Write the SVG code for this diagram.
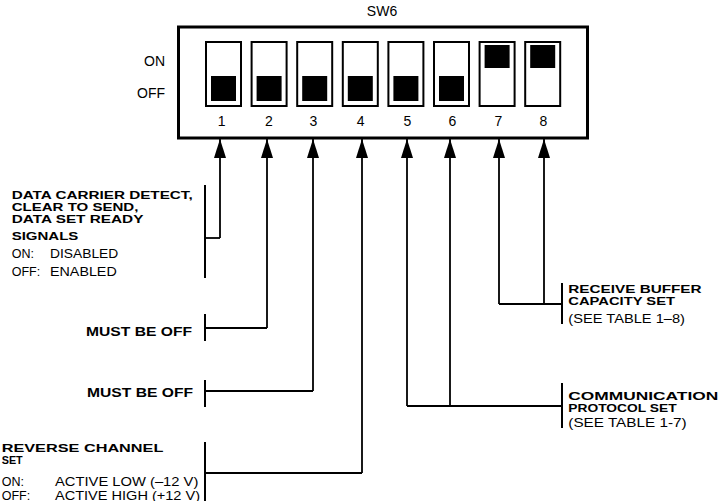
<svg xmlns="http://www.w3.org/2000/svg" width="722" height="501" viewBox="0 0 722 501">
<defs>
<style>
.b{font-family:"Liberation Sans",Arial,sans-serif;font-weight:bold;font-size:10.5px;fill:#000}
.m{font-family:"Liberation Sans",Arial,sans-serif;font-weight:bold;font-size:12px;fill:#000}
.r{font-family:"Liberation Sans",Arial,sans-serif;font-size:12.5px;fill:#000}
.n{font-family:"Liberation Sans",Arial,sans-serif;font-size:14px;fill:#000}
.sw{fill:#fff;stroke:#000;stroke-width:2}
.k{fill:#000}
.c{fill:none;stroke:#000;stroke-width:1.8}
.br{fill:none;stroke:#000;stroke-width:2}
</style>
<marker id="ah" markerWidth="19" markerHeight="12" refX="19" refY="6" orient="auto" markerUnits="userSpaceOnUse" viewBox="0 0 19 12">
<path d="M0,0 L19,6 L0,12 Z" fill="#000"/>
</marker>
</defs>
<rect width="722" height="501" fill="#fff"/>
<g id="sw6">
<text class="n" x="382" y="16" text-anchor="middle">SW6</text>
<text class="n" x="165" y="66" text-anchor="end">ON</text>
<text class="n" x="165" y="98" text-anchor="end">OFF</text>
<rect x="178.5" y="27" width="409" height="111" fill="#fff" stroke="#000" stroke-width="3"/>
<rect class="sw" x="206" y="42" width="35" height="64"/><rect class="k" x="211" y="76" width="25" height="25"/>
<rect class="sw" x="251.6" y="42" width="35" height="64"/><rect class="k" x="256.6" y="76" width="25" height="25"/>
<rect class="sw" x="297.2" y="42" width="35" height="64"/><rect class="k" x="302.2" y="76" width="25" height="25"/>
<rect class="sw" x="342.8" y="42" width="35" height="64"/><rect class="k" x="347.8" y="76" width="25" height="25"/>
<rect class="sw" x="388.4" y="42" width="35" height="64"/><rect class="k" x="393.4" y="76" width="25" height="25"/>
<rect class="sw" x="434" y="42" width="35" height="64"/><rect class="k" x="439" y="76" width="25" height="25"/>
<rect class="sw" x="479.6" y="42" width="35" height="64"/><rect class="k" x="484.6" y="45" width="25" height="23"/>
<rect class="sw" x="525.2" y="42" width="35" height="64"/><rect class="k" x="530.2" y="45" width="25" height="23"/>
<text class="n" x="221.7" y="126" text-anchor="middle">1</text>
<text class="n" x="269" y="126" text-anchor="middle">2</text>
<text class="n" x="313.3" y="126" text-anchor="middle">3</text>
<text class="n" x="360.7" y="126" text-anchor="middle">4</text>
<text class="n" x="407.3" y="126" text-anchor="middle">5</text>
<text class="n" x="452.3" y="126" text-anchor="middle">6</text>
<text class="n" x="498.3" y="126" text-anchor="middle">7</text>
<text class="n" x="543.3" y="126" text-anchor="middle">8</text>
</g>
<g id="connectors">
<path class="c" d="M220,238 V139" marker-end="url(#ah)"/>
<path class="c" d="M205,238 H220"/>
<path class="c" d="M267,328 V139" marker-end="url(#ah)"/>
<path class="c" d="M205,328 H267"/>
<path class="c" d="M313,391 V139" marker-end="url(#ah)"/>
<path class="c" d="M205,391 H313"/>
<path class="c" d="M362,473 V139" marker-end="url(#ah)"/>
<path class="c" d="M205,473 H362"/>
<path class="c" d="M407,406 V139" marker-end="url(#ah)"/>
<path class="c" d="M450,406 V139" marker-end="url(#ah)"/>
<path class="c" d="M407,406 H562"/>
<path class="c" d="M499,304 V139" marker-end="url(#ah)"/>
<path class="c" d="M544,304 V139" marker-end="url(#ah)"/>
<path class="c" d="M499,304 H562"/>
</g>
<g id="dcd">
<line class="br" x1="205" y1="185" x2="205" y2="278"/>
<text class="b" x="11.7" y="199" textLength="181" lengthAdjust="spacingAndGlyphs">DATA CARRIER DETECT,</text>
<text class="b" x="11.7" y="211" textLength="126.7" lengthAdjust="spacingAndGlyphs">CLEAR TO SEND,</text>
<text class="b" x="11.7" y="223" textLength="131.7" lengthAdjust="spacingAndGlyphs">DATA SET READY</text>
<text class="b" x="11.7" y="239.5" textLength="66.7" lengthAdjust="spacingAndGlyphs">SIGNALS</text>
<text class="r" x="11.7" y="258">ON:</text>
<text class="r" x="50" y="258" textLength="68.3" lengthAdjust="spacingAndGlyphs">DISABLED</text>
<text class="r" x="11.7" y="276">OFF:</text>
<text class="r" x="50" y="276" textLength="66.7" lengthAdjust="spacingAndGlyphs">ENABLED</text>
</g>
<g id="must1">
<line class="br" x1="205" y1="314" x2="205" y2="341"/>
<text class="m" x="86" y="336" textLength="106" lengthAdjust="spacingAndGlyphs">MUST BE OFF</text>
</g>
<g id="must2">
<line class="br" x1="205" y1="380" x2="205" y2="407"/>
<text class="m" x="87" y="396.5" textLength="106" lengthAdjust="spacingAndGlyphs">MUST BE OFF</text>
</g>
<g id="reverse">
<line class="br" x1="205" y1="442" x2="205" y2="501"/>
<text class="b" x="1.7" y="451.5" textLength="161.7" lengthAdjust="spacingAndGlyphs">REVERSE CHANNEL</text>
<text class="b" x="1.7" y="463.5" textLength="21" lengthAdjust="spacingAndGlyphs">SET</text>
<text class="r" x="1.7" y="485.7">ON:</text>
<text class="r" x="55" y="485.7" textLength="143.3" lengthAdjust="spacingAndGlyphs">ACTIVE LOW (–12 V)</text>
<text class="r" x="1.7" y="499.5">OFF:</text>
<text class="r" x="55" y="499.5" textLength="145" lengthAdjust="spacingAndGlyphs">ACTIVE HIGH (+12 V)</text>
</g>
<g id="receive">
<line class="br" x1="562" y1="283" x2="562" y2="324"/>
<text class="b" x="568.3" y="292.5" textLength="133.3" lengthAdjust="spacingAndGlyphs">RECEIVE BUFFER</text>
<text class="b" x="568.3" y="304.5" textLength="106.7" lengthAdjust="spacingAndGlyphs">CAPACITY SET</text>
<text class="r" x="568.3" y="322.5" textLength="116.7" lengthAdjust="spacingAndGlyphs">(SEE TABLE 1–8)</text>
</g>
<g id="comm">
<line class="br" x1="562" y1="383" x2="562" y2="428"/>
<text class="b" x="568.3" y="399.5" textLength="150" lengthAdjust="spacingAndGlyphs">COMMUNICATION</text>
<text class="b" x="568.3" y="411.5" textLength="108.3" lengthAdjust="spacingAndGlyphs">PROTOCOL SET</text>
<text class="r" x="568.3" y="426.5" textLength="118.3" lengthAdjust="spacingAndGlyphs">(SEE TABLE 1-7)</text>
</g>
</svg>
